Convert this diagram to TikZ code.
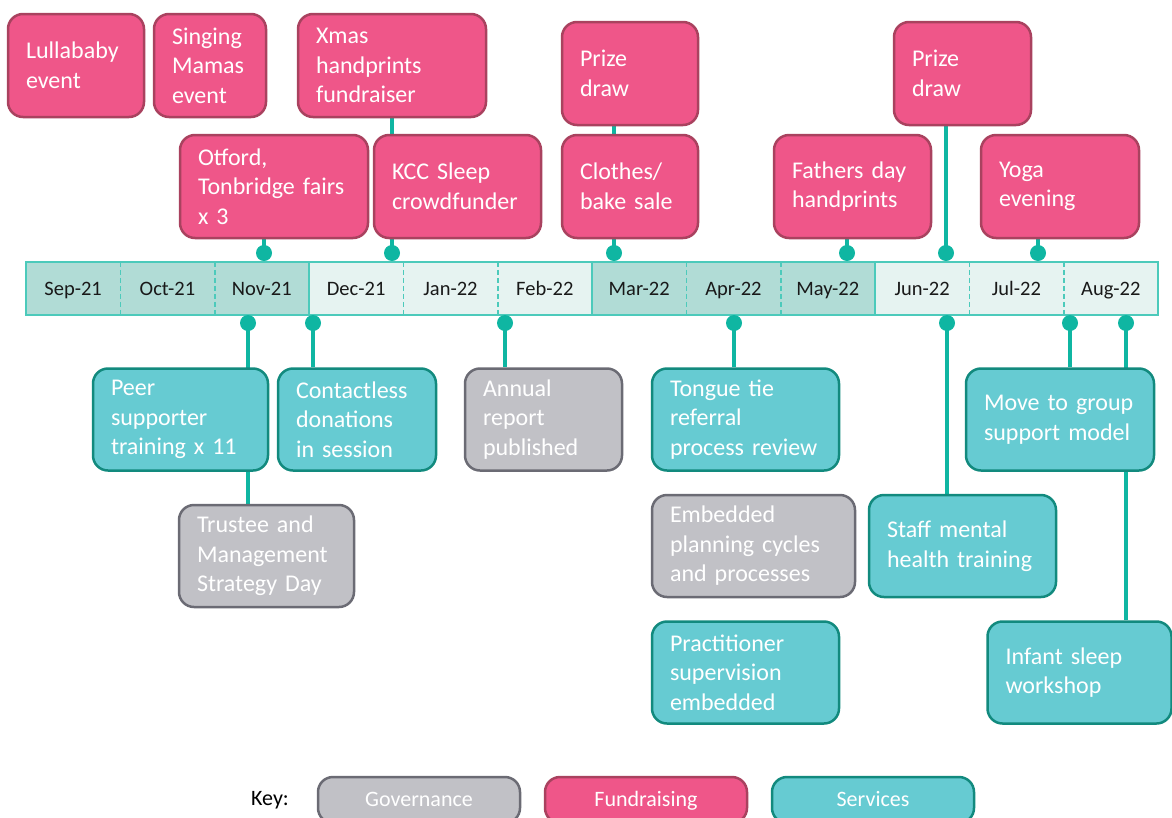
\documentclass[tikz,border=0pt]{standalone}
\usepackage{fontspec}
\setmainfont{Carlito}
\usetikzlibrary{backgrounds}

\definecolor{pinkfill}{HTML}{EF5689}
\definecolor{pinkline}{HTML}{A9425F}
\definecolor{tealfill}{HTML}{66CBD2}
\definecolor{tealline}{HTML}{128A7E}
\definecolor{greyfill}{HTML}{C1C1C6}
\definecolor{greyline}{HTML}{6B6B74}
\definecolor{linkcol}{HTML}{0FB6A2}
\definecolor{barline}{HTML}{4CCABB}
\definecolor{monthdark}{HTML}{B1DCD6}
\definecolor{monthlight}{HTML}{E6F3F1}

\begin{document}
\begin{tikzpicture}[x=1pt,y=-1pt,
    every node/.style={font=\fontsize{24}{29.5}\selectfont},
    card/.style={rectangle, rounded corners=15pt, line width=2.5pt, text=white,
                 align=left, inner xsep=18pt, inner ysep=4pt, minimum height=103pt},
    fund/.style={card, fill=pinkfill, draw=pinkline},
    serv/.style={card, fill=tealfill, draw=tealline},
    gov/.style={card, fill=greyfill, draw=greyline},
    month/.style={rectangle, minimum width=94.33pt, minimum height=53pt, inner sep=0pt,
                  text height=14pt, text depth=1pt,
                  text=black!90, font=\fontsize{20.5}{24}\selectfont},
    sep/.style={draw=barline, line width=1.5pt},
    dot/.style={circle, fill=linkcol, inner sep=0pt, minimum size=16pt},
    link/.style={draw=linkcol, line width=3.5pt},
    keybox/.style={align=center, minimum width=202pt, minimum height=46pt, inner xsep=0pt,
                   text height=15pt, text depth=3pt, font=\fontsize{22}{26}\selectfont}
  ]
\useasboundingbox (0,0) rectangle (1172,817);

% month bar
\foreach \i/\mon/\shade in {1/Sep-21/monthdark, 2/Oct-21/monthdark, 3/Nov-21/monthdark,
    4/Dec-21/monthlight, 5/Jan-22/monthlight, 6/Feb-22/monthlight,
    7/Mar-22/monthdark, 8/Apr-22/monthdark, 9/May-22/monthdark,
    10/Jun-22/monthlight, 11/Jul-22/monthlight, 12/Aug-22/monthlight}
  \node[month, fill=\shade] (m\i) at ({26+94.33*(\i-0.5)}, 288.5) {\mon};
\foreach \i in {1,2,4,5,7,8,10,11}
  \draw[sep, dash pattern=on 5pt off 3pt] (m\i.north east) -- (m\i.south east);
\foreach \i in {3,6,9}
  \draw[sep] (m\i.north east) -- (m\i.south east);
\draw[sep] (m1.north west) rectangle (m12.south east);

% dots on the bar
\foreach \x [count=\k] in {264,392,614,847,946,1038}
  \node[dot] (up\k) at (\x,253) {};
\foreach \x [count=\k] in {248,313,505,734,947,1070,1126}
  \node[dot] (dn\k) at (\x,323) {};

% fundraising, above the bar
\node[fund, text width=100pt] (lullababy) at (76,65.5) {Lullababy\\event};
\node[fund, text width=76pt] (mamas) at (210,65.5) {Singing\\Mamas\\event};
\node[fund, text width=152pt] (xmas) at (392,65.5) {Xmas\\handprints\\fundraiser};
\node[fund, text width=152pt] (fairs) at (274,186.5) {Otford,\\Tonbridge fairs\\x 3};
\node[fund, text width=131pt] (kcc) at (457.5,186.5) {KCC Sleep\\crowdfunder};
\node[fund, text width=100pt] (prizemar) at (630,73.5) {Prize\\draw};
\node[fund, text width=100pt] (clothes) at (630,186.5) {Clothes/\\bake sale};
\node[fund, text width=121pt] (fathers) at (852.5,186.5) {Fathers day\\handprints};
\node[fund, text width=101pt] (prizejun) at (962.5,73.5) {Prize\\draw};
\node[fund, text width=122pt] (yoga) at (1060,186.5) {Yoga\\evening};

% services and governance, below the bar
\node[serv, text width=139pt, minimum height=102pt] (peer) at (180.5,419.5) {Peer\\supporter\\training x 11};
\node[serv, text width=122pt, minimum height=102pt] (contactless) at (357,419.5) {Contactless\\donations\\in session};
\node[gov, text width=121pt, minimum height=102pt] (annual) at (543.5,419.5) {Annual\\report\\published};
\node[gov, text width=139pt, minimum height=102pt] (trustee) at (266.5,556) {Trustee and\\Management\\Strategy Day};
\node[serv, text width=151pt, minimum height=102pt] (tongue) at (745.5,419.5) {Tongue tie\\referral\\process review};
\node[gov, text width=167pt, minimum height=102pt] (planning) at (753.5,546) {Embedded\\planning cycles\\and processes};
\node[serv, text width=151pt, minimum height=102pt] (supervision) at (745.5,672.5) {Practitioner\\supervision\\embedded};
\node[serv, text width=151pt, minimum height=102pt] (staff) at (962.5,546) {Staff mental\\health training};
\node[serv, text width=152pt, minimum height=102pt] (groupmodel) at (1060,419.5) {Move to group\\support model};
\node[serv, text width=148pt, minimum height=102pt] (sleep) at (1079.5,672.5) {Infant sleep\\workshop};

\begin{scope}[on background layer]
  \draw[link] (up1.center) -- (up1 |- fairs.south);
  \draw[link] (up2.center) -- (up2 |- xmas.south);
  \draw[link] (up3.center) -- (up3 |- prizemar.south);
  \draw[link] (up4.center) -- (up4 |- fathers.south);
  \draw[link] (up5.center) -- (up5 |- prizejun.south);
  \draw[link] (up6.center) -- (up6 |- yoga.south);
  \draw[link] (dn1.center) -- (dn1 |- trustee.north);
  \draw[link] (dn2.center) -- (dn2 |- contactless.north);
  \draw[link] (dn3.center) -- (dn3 |- annual.north);
  \draw[link] (dn4.center) -- (dn4 |- tongue.north);
  \draw[link] (dn5.center) -- (dn5 |- staff.north);
  \draw[link] (dn6.center) -- (dn6 |- groupmodel.north);
  \draw[link] (dn7.center) -- (dn7 |- sleep.north);
\end{scope}

% key
\node[font=\fontsize{22}{26}\selectfont] (keylabel) at (270,800) {Key:};
\node[gov, keybox] (keygov) at (419,800) {Governance};
\node[fund, keybox] (keyfund) at (646,800) {Fundraising};
\node[serv, keybox] (keyserv) at (873,800) {Services};
\end{tikzpicture}
\end{document}
